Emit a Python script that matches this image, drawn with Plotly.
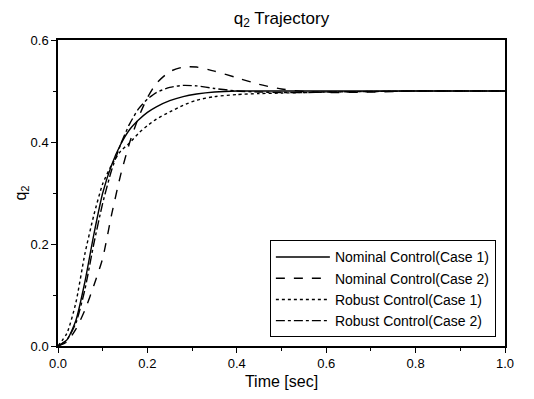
import plotly.graph_objects as go

time = [0, 0.02, 0.04, 0.06, 0.08, 0.10, 0.12, 0.14, 0.16, 0.18, 0.20, 0.22, 0.25,
        0.28, 0.31, 0.35, 0.40, 0.45, 0.50, 0.55, 0.60, 0.70, 0.80, 0.90, 1.0]

nominal_case1 = [0, 0.012, 0.05, 0.125, 0.218, 0.300, 0.355, 0.395, 0.424, 0.443, 0.458, 0.469, 0.481,
                 0.489, 0.494, 0.498, 0.500, 0.500, 0.500, 0.500, 0.500, 0.500, 0.500, 0.500, 0.500]
nominal_case2 = [0, 0.008, 0.033, 0.070, 0.118, 0.172, 0.258, 0.335, 0.398, 0.448, 0.487, 0.515, 0.538,
                 0.547, 0.547, 0.539, 0.526, 0.513, 0.504, 0.499, 0.497, 0.498, 0.500, 0.500, 0.500]
robust_case1 = [0, 0.025, 0.085, 0.180, 0.256, 0.318, 0.355, 0.382, 0.398, 0.417, 0.432, 0.445, 0.459,
                0.472, 0.482, 0.489, 0.493, 0.495, 0.496, 0.497, 0.498, 0.499, 0.500, 0.500, 0.500]
robust_case2 = [0, 0.012, 0.045, 0.110, 0.200, 0.280, 0.345, 0.395, 0.435, 0.465, 0.484, 0.497, 0.507,
                0.511, 0.510, 0.505, 0.500, 0.498, 0.497, 0.497, 0.498, 0.499, 0.500, 0.500, 0.500]

series = [
    ("Nominal Control(Case 1)", nominal_case1, "solid"),
    ("Nominal Control(Case 2)", nominal_case2, "dash"),
    ("Robust Control(Case 1)", robust_case1, "dot"),
    ("Robust Control(Case 2)", robust_case2, "dashdot"),
]

FONT = "Liberation Sans, Arial, sans-serif"

fig = go.Figure()
for name, vals, dash in series:
    fig.add_trace(go.Scatter(
        x=time, y=vals, mode="lines", name=name,
        line=dict(color="black", width=1.4, dash=dash, shape="spline", smoothing=0.6),
    ))

axis_common = dict(
    showgrid=False, zeroline=False, showline=True, linecolor="black", linewidth=1.5,
    mirror=True, ticks="outside", ticklen=5, tickwidth=1.2, tickcolor="black",
    tickformat=".1f", tickfont=dict(family=FONT, size=13, color="black"),
    automargin=False,
)

fig.update_xaxes(range=[0, 1.0], dtick=0.2,
                 minor=dict(dtick=0.1, ticks="outside", ticklen=3, tickcolor="black"),
                 title=dict(text="Time [sec]", font=dict(family=FONT, size=16, color="black"), standoff=5),
                 **axis_common)
fig.update_yaxes(range=[0, 0.6], dtick=0.2,
                 minor=dict(dtick=0.1, ticks="outside", ticklen=3, tickcolor="black"),
                 title=dict(text="q<sub>2</sub>", font=dict(family=FONT, size=16, color="black"), standoff=0),
                 **axis_common)

fig.update_layout(
    width=534, height=399,
    margin=dict(l=58, r=29, t=40, b=53, autoexpand=False),
    paper_bgcolor="white", plot_bgcolor="white",
    title=dict(text="q<sub>2</sub> Trajectory", x=0.527, xanchor="center", y=0.955, yanchor="middle",
               font=dict(family=FONT, size=17, color="black")),
    font=dict(family=FONT, color="black"),
    legend=dict(x=0.474, y=0.345, xanchor="left", yanchor="top",
                bordercolor="black", borderwidth=1, bgcolor="white",
                font=dict(family=FONT, size=14, color="black"),
                tracegroupgap=0, itemwidth=54),
    showlegend=True,
)

fig.write_html("out.html", config={"displayModeBar": False},
               post_script="document.body.style.margin='0px';document.body.style.overflow='hidden';")
